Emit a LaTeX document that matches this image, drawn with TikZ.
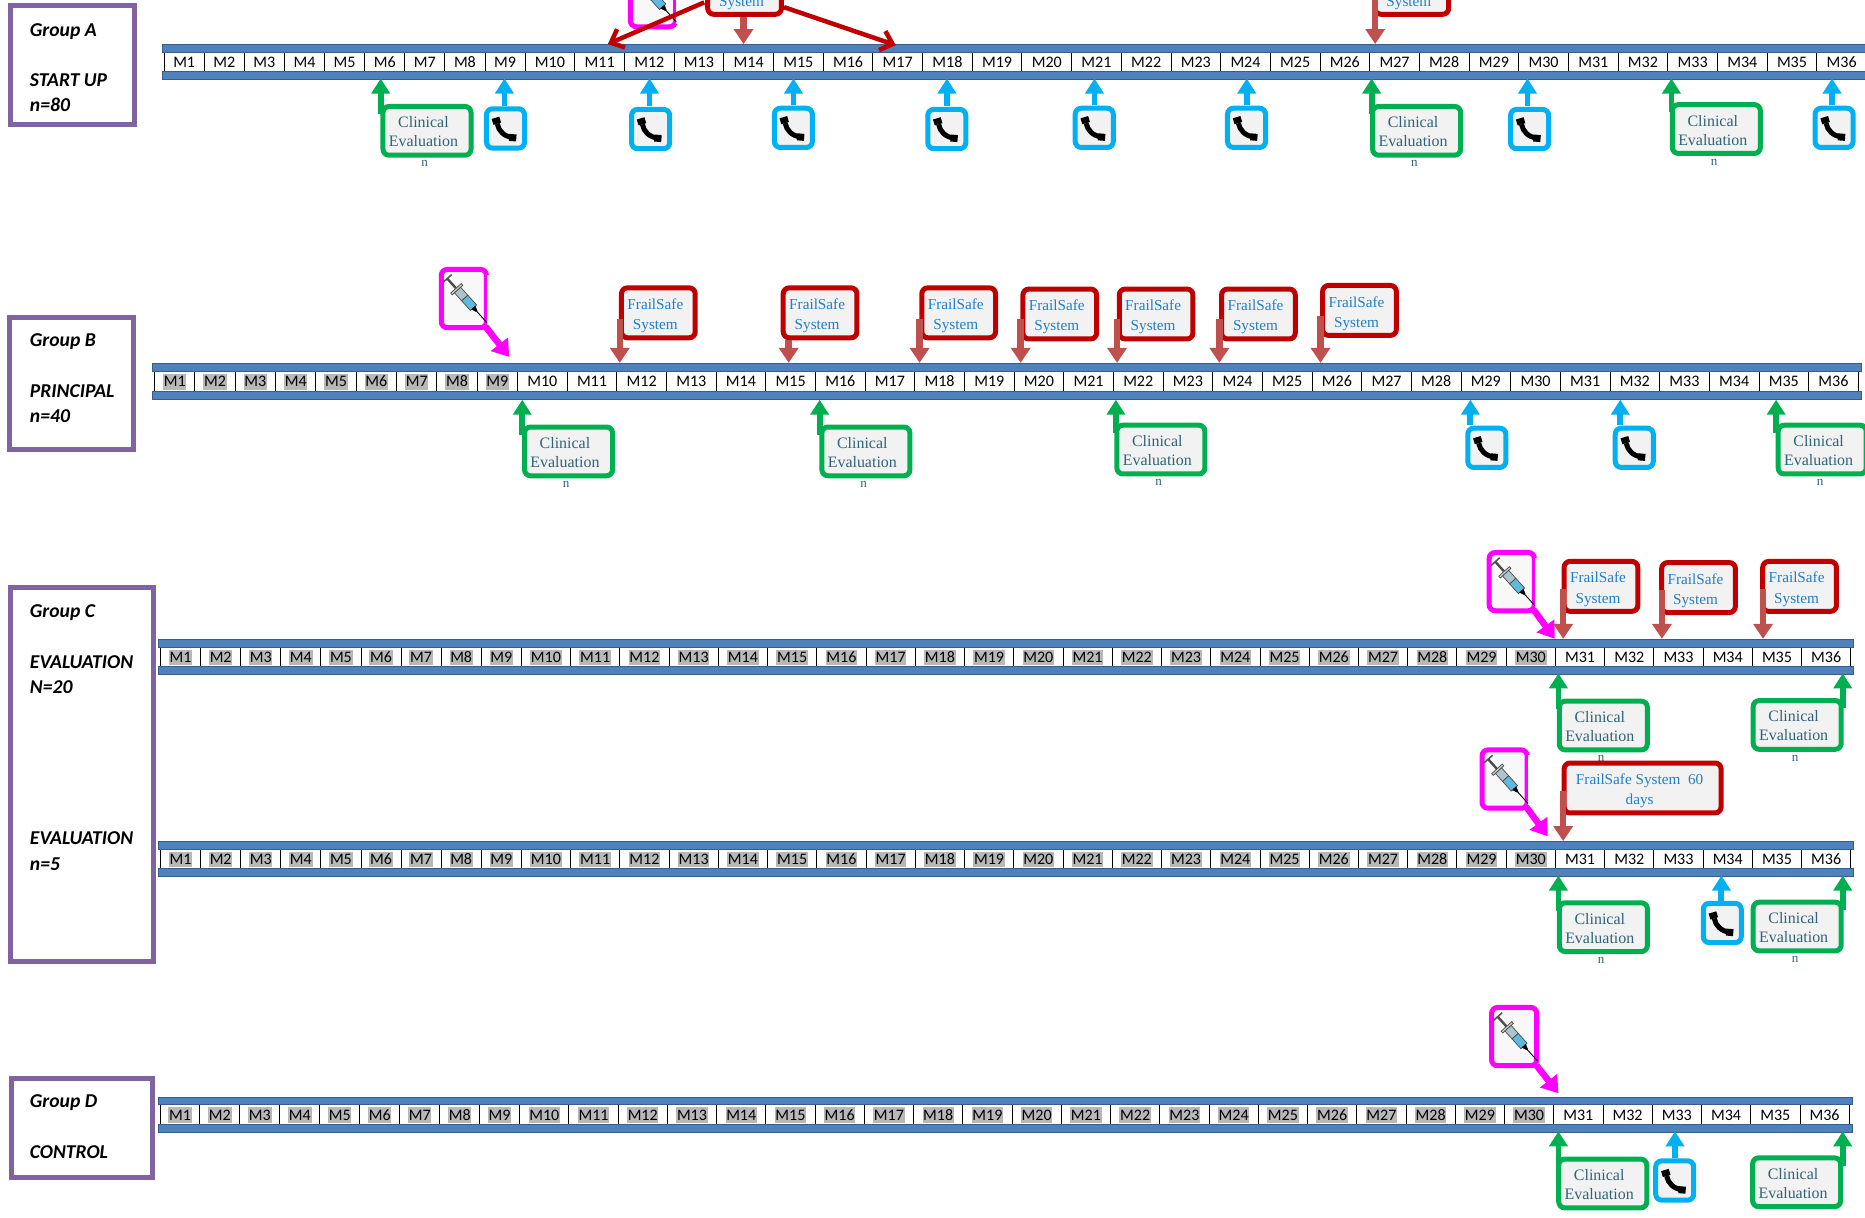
\documentclass[tikz,border=0pt]{standalone}
\usepackage{fontspec}
\setmainfont{Carlito}
\newfontfamily\boxfont{Liberation Serif}
\usepackage{tikz}
\usetikzlibrary{positioning}
\usetikzlibrary{arrows.meta}
\definecolor{barblue}{HTML}{4F81BD}
\definecolor{bardark}{HTML}{385D8A}
\definecolor{grouppurple}{HTML}{8064A2}
\definecolor{evalgreen}{HTML}{00B050}
\definecolor{evaltext}{HTML}{2F6377}
\definecolor{fsred}{HTML}{C00000}
\definecolor{fsarrow}{HTML}{C0504D}
\definecolor{fstext}{HTML}{1F7FC8}
\definecolor{callblue}{HTML}{00B0F0}
\definecolor{shotpink}{HTML}{FF00FF}
\definecolor{boxgray}{HTML}{F2F2F2}
\definecolor{cellgray}{HTML}{B8B8B8}
\setlength{\fboxsep}{0.6pt}
\tikzset{
    barnode/.style = {rectangle, draw=bardark, line width=0.8pt, fill=barblue, minimum height=6.5pt, inner sep=0pt},
    cellnode/.style = {rectangle, draw=black, line width=0.9pt, fill=white, minimum height=17pt, inner sep=0pt, text height=12pt, text depth=2pt, font=\fontsize{13.5}{15}\selectfont},
    groupbox/.style = {rectangle, draw=grouppurple, line width=5pt, fill=white, inner sep=0pt},
    grouptext/.style = {inner sep=0pt, align=left, anchor=north west, font=\fontsize{16.5}{21.2}\selectfont\bfseries\itshape},
    evalnode/.style = {rectangle, rounded corners=6pt, draw=evalgreen, line width=5pt, fill=boxgray, minimum width=74pt, minimum height=41pt, inner sep=0pt, align=center, text=evaltext, font=\boxfont\fontsize{13.4}{16}\selectfont},
    fsnode/.style = {rectangle, rounded corners=6pt, draw=fsred, line width=5pt, fill=boxgray, minimum width=62pt, minimum height=42pt, inner sep=0pt, align=center, text=fstext, font=\boxfont\fontsize{12.8}{17}\selectfont},
    callnode/.style = {rectangle, rounded corners=6pt, draw=callblue, line width=5pt, fill=boxgray, minimum width=32pt, minimum height=33pt, inner sep=0pt},
    shotnode/.style = {rectangle, rounded corners=6pt, draw=shotpink, line width=5pt, fill=boxgray!50, minimum width=38pt, minimum height=49pt, inner sep=0pt},
    smalln/.style = {inner sep=0pt, text=evaltext, font=\boxfont\fontsize{11}{11}\selectfont},
    edgeg/.style = {-{Triangle[length=15pt,width=18pt]},line width=5.8pt,evalgreen},
    edgeb/.style = {-{Triangle[length=15pt,width=18pt]},line width=5.8pt,callblue},
    edger/.style = {-{Triangle[length=15pt,width=19pt]},line width=6.5pt,fsarrow},
    edgep/.style = {-{Triangle[length=16pt,width=21pt]},line width=6.5pt,shotpink},
    edgerd/.style = {-{Straight Barb[length=11pt,width=20pt]},line width=4.5pt,fsred},
    pics/phone/.style = {code={
        \draw[black,line width=5pt] (-7,-4) .. controls (-6,2) and (-1,7) .. (6,7.5);
        \draw[black,line width=8pt] (-8.5,-9) -- (-7,-4);
        \draw[black,line width=7pt] (3,7.5) -- (9,8);
    }},
    pics/syringe/.style = {code={
        \begin{scope}[rotate=-48]
        \draw[gray!70!black,line width=1.6pt] (-24,-5) -- (-24,5);
        \draw[gray!60!black,line width=2.4pt] (-24,0) -- (-12,0);
        \draw[black!70,fill=gray!40,line width=0.7pt] (-13,-6) rectangle (-11,6);
        \draw[black!70,fill=cyan!30!gray!60,line width=0.7pt] (-11,-3.5) rectangle (-2,3.5);
        \draw[black!70,fill=cyan!70!teal!70,line width=0.7pt] (-2,-3.5) rectangle (9,3.5);
        \draw[black,fill=black] (9,-2) -- (13,-0.5) -- (13,0.5) -- (9,2) -- cycle;
        \draw[black,line width=0.9pt] (13,0) -- (26,0);
        \end{scope}
    }}
}
% one month bar: name, first x, small width, big width, top y, shaded months
\newcommand{\timerow}[6]{%
    \foreach \i in {1,...,36} {
        \pgfmathsetmacro{\cw}{\i<10 ? #3 : #4}
        \pgfmathsetmacro{\cx}{\i<10 ? #2+(\i-0.5)*#3 : #2+9*#3+(\i-9.5)*#4}
        \ifnum\i>#6
            \node[cellnode, minimum width=\cw pt] at (\cx,#5+14.7) (#1m\i) {M\i};
        \else
            \node[cellnode, minimum width=\cw pt] at (\cx,#5+14.7) (#1m\i) {\colorbox{cellgray}{\rule[-2pt]{0pt}{12pt}M\i}};
        \fi
    }
    \pgfmathsetmacro{\rowend}{#2+9*#3+27*#4}
    \node[barnode, minimum width={\rowend-#2+4pt}, anchor=north west] at (#2-2,#5) (#1top) {};
    \node[barnode, minimum width={\rowend-#2+4pt}, anchor=north west] at (#2-2,#5+23) (#1bot) {};
}
% text of the green and red boxes sits a little off the box centre
\newcommand{\evaltxt}{\hspace*{-6pt}\raisebox{-4.5pt}[0pt][0pt]{\parbox{68pt}{\centering Clinical\\Evaluation}}}
\newcommand{\fstxt}[2]{\hspace*{-5pt}\raisebox{-5.5pt}[0pt][0pt]{\parbox{#1}{\centering #2}}}

\begin{document}
\begin{tikzpicture}[x=1pt,y=-1pt,scale=1.18941,transform shape]
\clip (0,0) rectangle (1568,1024);
%
\node[groupbox, minimum width=104pt, minimum height=100pt] at (61,55) (ga) {};
\node[groupbox, minimum width=104pt, minimum height=111pt] at (60,322.5) (gb) {};
\node[groupbox, minimum width=120pt, minimum height=314pt] at (69,651) (gc) {};
\node[groupbox, minimum width=118pt, minimum height=83pt] at (69,948.5) (gd) {};
\node[grouptext] at (25,19.5) (gat) {Group A\\ \\START UP\\n=80};
\node[grouptext] at (25,280.5) (gbt) {Group B\\ \\PRINCIPAL\\n=40};
\node[grouptext] at (25,508.5) (gct) {Group C\\ \\EVALUATION\\N=20\\ \\ \\ \\ \\ \\EVALUATION\\n=5};
\node[grouptext] at (25,920.5) (gdt) {Group D\\ \\CONTROL};
%
\timerow{a}{138}{33.72}{41.77}{37}{0}
\timerow{b}{130}{33.9}{41.75}{305.5}{9}
\timerow{c}{135}{33.7}{41.4}{537}{30}
\timerow{e}{135}{33.7}{41.4}{707}{30}
\timerow{d}{134.5}{33.6}{41.4}{922}{30}
%
\foreach \n/\cx/\cy/\tx/\ty in {
    ca1/359/110/320/66, ca2/1191/110/1153/66, ca3/1443/108.5/1405/66,
    cb1/478/379.5/439/336, cb2/728/379.5/689/336, cb3/976/378/938/336, cb4/1532/378/1493/336,
    cc1/1348/610/1310/566, cc2/1511/609.5/1549/566,
    ce1/1348/779.5/1310/736, ce2/1511/779/1549/736} {
    \node[evalnode, label={[smalln,xshift=-2pt,yshift=-2pt]below:n}] at (\cx,\cy) (\n) {\evaltxt};
    \coordinate (\n tip) at (\tx,\ty);
    \draw[edgeg] ([yshift=-9pt]\n.north -| \n tip) -- (\n tip);
}
\foreach \n/\cx/\cy/\tx/\ty in {cd1/1347.5/995/1310/951, cd2/1510.5/994/1549/951} {
    \node[evalnode] at (\cx,\cy) (\n) {\evaltxt};
    \coordinate (\n tip) at (\tx,\ty);
    \draw[edgeg] ([yshift=-9pt]\n.north -| \n tip) -- (\n tip);
}
%
\foreach \n/\cx/\cy/\tx/\ty in {
    ta1/425/108/424/66, ta2/547/108.5/546/66, ta3/667/107.5/667/66, ta4/796/108.5/796/66,
    ta5/920/107.5/920/66, ta6/1048/107.5/1048/66, ta7/1286/108.5/1284/66, ta8/1542/107.5/1540/66,
    tb1/1250/376.5/1236/336, tb2/1374/376.5/1362/336, te1/1448/776/1447/736, td1/1408/992.5/1408/951} {
    \node[callnode] at (\cx,\cy) (\n) {};
    \pic at (\n) {phone};
    \coordinate (\n tip) at (\tx,\ty);
    \draw[edgeb] (\n.north -| \n tip) -- (\n tip);
}
%
\node[shotnode] at (549,-2) (sa) {};
\foreach \n/\cx/\cy/\tx/\ty in {sb/390/251/428/300, sc/1271/489/1307/537, se/1265/655/1301/703, sd/1273/871.5/1310/919} {
    \node[shotnode] at (\cx,\cy) (\n) {};
    \coordinate (\n tip) at (\tx,\ty);
}
% the picture inside these boxes covers part of their right side
\foreach \n in {sa,sb,sc,se} {
    \fill[white] ([xshift=-2pt,yshift=-7pt]\n.north east) rectangle ([xshift=1.4pt,yshift=5pt]\n.south east);
}
\foreach \n in {sa,sb,sc,se,sd} {
    \pic at ([xshift=2pt,yshift=-1pt]\n) {syringe};
}
\foreach \n in {sb,sc,se,sd} {
    \draw[edgep] ([xshift=-3pt,yshift=3pt]\n.south east) -- (\n tip);
}
%
\foreach \n/\cx/\cy/\tx/\ty/\sy in {
    fa1/626/-9/625/37/14, fa2/1187/-9/1156/37/-2,
    fb1/553.5/263/521/305/268, fb2/689.5/263/663/305/286, fb3/806/263/773/305/268,
    fb4/891/264/858/305/268, fb5/972/264/939/305/268, fb6/1058/264/1025/305/268, fb7/1143/261/1110/305/266,
    fc1/1346/493/1314/537/495, fc2/1428/494/1397/537/496, fc3/1513/493/1482/537/495} {
    \node[fsnode] at (\cx,\cy) (\n) {\fstxt{56pt}{FrailSafe\\System}};
    \coordinate (\n tip) at (\tx,\ty);
    \coordinate (\n from) at (\tx,\sy);
    \draw[edger] (\n from) -- (\n tip);
}
\node[fsnode, minimum width=132pt] at (1381,662.5) (fe1) {\fstxt{126pt}{FrailSafe System\ \ 60\\days}};
\coordinate (fe1tip) at (1314,707);
\coordinate (fe1from) at (1314,665);
\draw[edger] (fe1from) -- (fe1tip);
%
\coordinate (fa1lfrom) at (592,2);
\coordinate (fa1ltip) at (511,37);
\coordinate (fa1rfrom) at (659,6);
\coordinate (fa1rtip) at (753,38);
\draw[edgerd] (fa1lfrom) -- (fa1ltip);
\draw[edgerd] (fa1rfrom) -- (fa1rtip);

\end{tikzpicture}
\end{document}
